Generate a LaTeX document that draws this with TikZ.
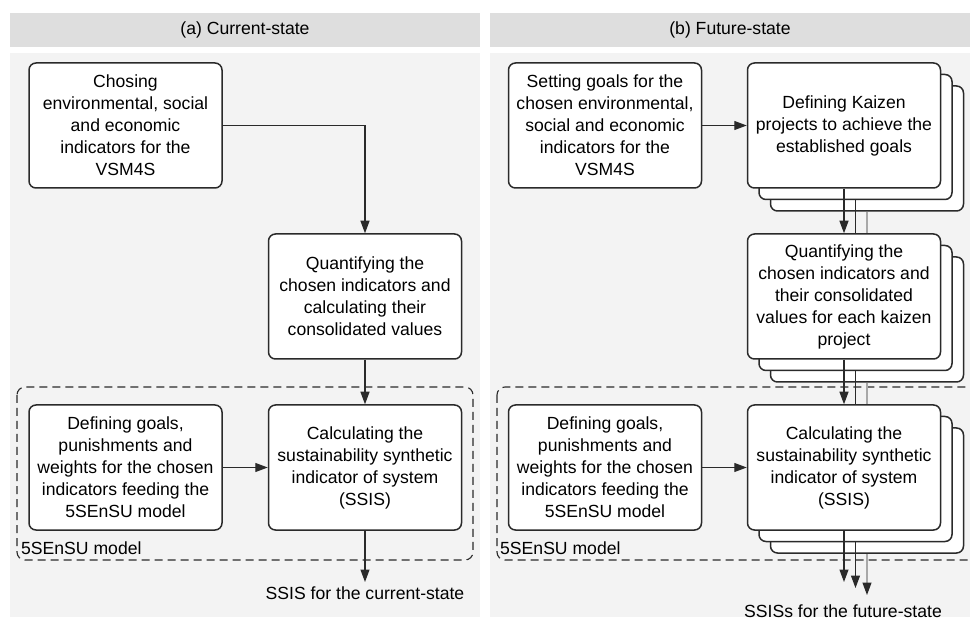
\documentclass[tikz,border=0pt]{standalone}
\usepackage{fontspec}
\setmainfont{Liberation Sans}
\usetikzlibrary{arrows.meta}
\definecolor{hdrgray}{HTML}{DEDEDE}
\definecolor{panegray}{HTML}{F3F3F3}
\definecolor{edgegray}{HTML}{2A2A2A}
\definecolor{faintline}{HTML}{A8A8A8}
\begin{document}
\begin{tikzpicture}[x=1pt,y=-1pt,
  txt/.style={font=\fontsize{17.6}{22}\selectfont, inner sep=0pt},
  box/.style={txt, draw=edgegray, line width=1.5pt, fill=white, rounded corners=7pt,
              minimum width=193pt, minimum height=125pt, align=center},
  flow/.style={draw=edgegray, line width=1.2pt, -{Triangle[length=12.5pt,width=9pt]}},
  feed/.style={draw=edgegray, line width=1.2pt},
  feedfaint/.style={draw=faintline, line width=1.2pt},
  flowfaint/.style={draw=faintline, line width=1.2pt, -{Triangle[length=12.5pt,width=9pt,color=edgegray]}},
  modelframe/.style={draw=edgegray, line width=1.1pt, dash pattern=on 8pt off 5pt, rounded corners=8pt},
  header/.style={fill=hdrgray, draw=none},
  pane/.style={fill=panegray, draw=none}
]
\useasboundingbox (0,0) rectangle (970,620);
\clip (0,0) rectangle (970,620);
\fill[white] (0,0) rectangle (970,620);

% panel backgrounds and headers
\path[header] (10,13) rectangle (480,47);
\path[header] (490,13) rectangle (975,47);
\path[pane] (10,53) rectangle (480,617);
\path[pane] (490,53) rectangle (975,617);
\node[txt] (ha) at (245,30) {(a) Current-state};
\node[txt] (hb) at (730,30) {(b) Future-state};

% ---------- (a) current state ----------
\draw[modelframe] (17,387) rectangle (473,560);
\node[txt, anchor=west] (ma) at (21,548) {5SEnSU model};

\node[box] (a1) at (125.5,125.5) {Chosing\\environmental, social\\and economic\\indicators for the\\VSM4S};
\node[box] (a2) at (365,296.5) {Quantifying the\\chosen indicators and\\calculating their\\consolidated values};
\node[box] (a3) at (125.5,467.5) {Defining goals,\\punishments and\\weights for the chosen\\indicators feeding the\\5SEnSU model};
\node[box] (a4) at (365,467.5) {Calculating the\\sustainability synthetic\\indicator of system\\(SSIS)};

\coordinate (aout) at (365,582);
\node[txt] (aoutlabel) at (365,593) {SSIS for the current-state};

\draw[flow] (a1.east) -| (a2.north);
\draw[flow] (a2.south) -- (a4.north);
\draw[flow] (a3.east) -- (a4.west);
\draw[flow] (a4.south) -- (aout);

% ---------- (b) future state ----------
\draw[modelframe] (497,387) rectangle (990,560);
\node[txt, anchor=west] (mb) at (500,548) {5SEnSU model};

% stacked copies behind the kaizen boxes
\node[box] (b2t) at (867,148.5) {};
\node[box] (b2s) at (855.5,137) {};
\node[box] (b3t) at (867,319.5) {};
\node[box] (b3s) at (855.5,308) {};
\node[box] (b5t) at (867,490.5) {};
\node[box] (b5s) at (855.5,479) {};

\node[box] (b1) at (605,125.5) {Setting goals for the\\chosen environmental,\\social and economic\\indicators for the\\VSM4S};
\node[box] (b2) at (844,125.5) {Defining Kaizen\\projects to achieve the\\established goals};
\node[box] (b3) at (844,296.5) {Quantifying the\\chosen indicators and\\their consolidated\\values for each kaizen\\project};
\node[box] (b4) at (605,467.5) {Defining goals,\\punishments and\\weights for the chosen\\indicators feeding the\\5SEnSU model};
\node[box] (b5) at (844,467.5) {Calculating the\\sustainability synthetic\\indicator of system\\(SSIS)};

\draw[flow] (b1.east) -- (b2.west);
\draw[flow] (b2.south) -- (b3.north);
\draw[feed] (b2s.south) -- (b2s.south |- b3.north);
\draw[feedfaint] (b2t.south) -- (b2t.south |- b3.north);
\draw[flow] (b3.south) -- (b5.north);
\draw[feed] (b3s.south) -- (b3s.south |- b5.north);
\draw[feedfaint] (b3t.south) -- (b3t.south |- b5.north);
\draw[flow] (b4.east) -- (b5.west);

\coordinate (bout1) at (844,582);
\coordinate (bout2) at (855.5,588);
\coordinate (bout3) at (867,595);
\draw[flow] (b5.south) -- (bout1);
\draw[flow] (b5s.south) -- (bout2);
\draw[flowfaint] (b5t.south) -- (bout3);
\node[txt] (boutlabel) at (843,611) {SSISs for the future-state};
\end{tikzpicture}
\end{document}
